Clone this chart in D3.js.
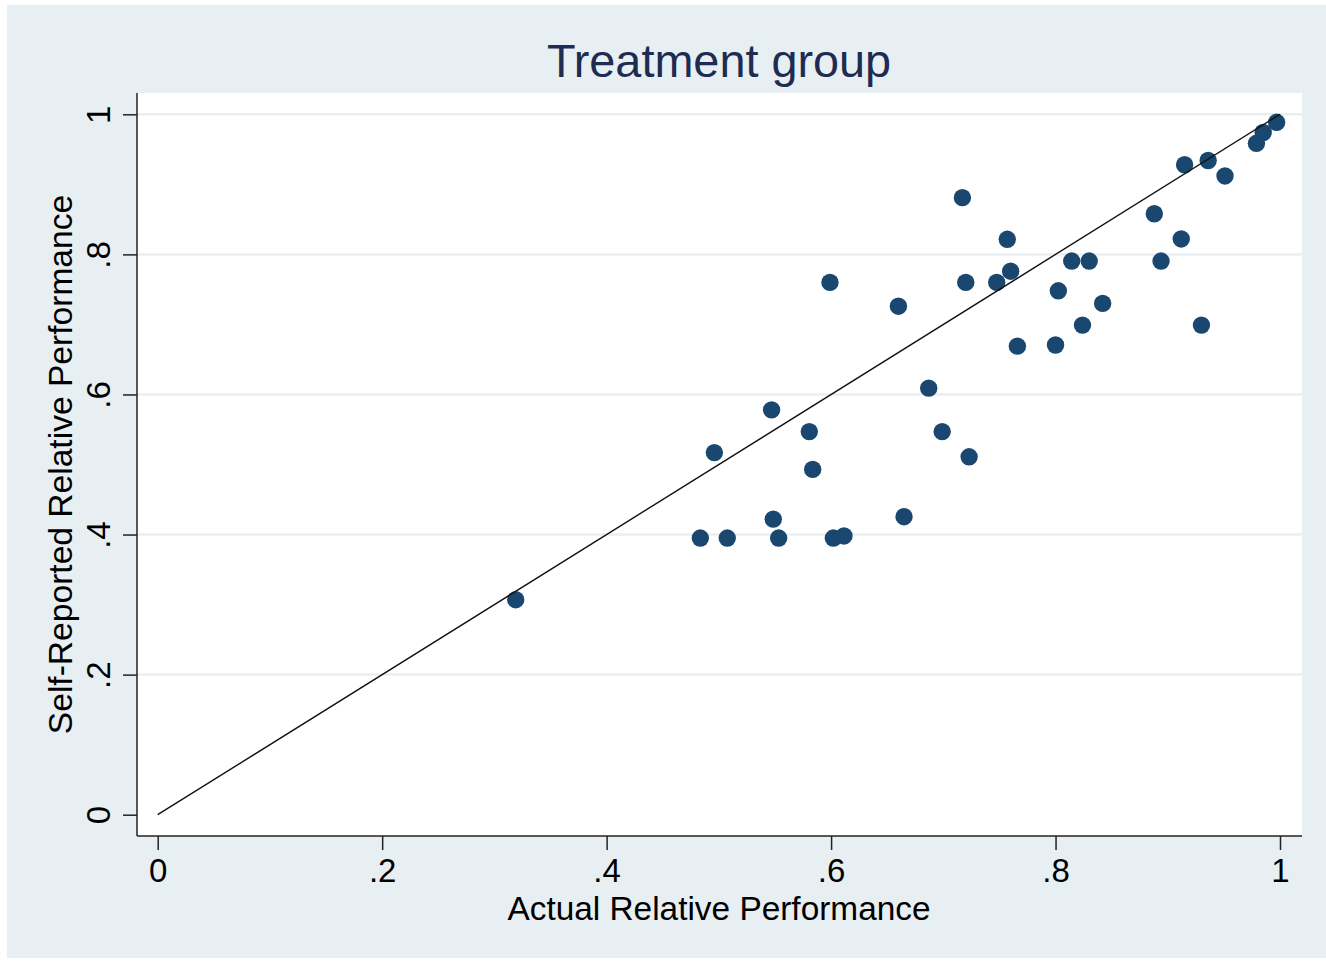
<!DOCTYPE html>
<html>
<head>
<meta charset="utf-8">
<script src="https://cdn.jsdelivr.net/npm/d3@7"></script>
<style>
  body { margin: 0; background: #ffffff; }
  svg { display: block; font-family: "Liberation Sans", Arial, sans-serif; }
</style>
</head>
<body>
<svg id="chart"></svg>
<script>
// actual vs self-reported relative performance
const ACTUAL = [
    0.319, 0.4835, 0.496, 0.5075, 0.547, 0.5485, 0.5533, 0.5806, 0.5836, 0.599,
    0.602, 0.6115, 0.660, 0.665, 0.687, 0.699, 0.717, 0.720, 0.723, 0.7476,
    0.757, 0.760, 0.766, 0.800, 0.8025, 0.8144, 0.824, 0.830, 0.842, 0.888,
    0.894, 0.912, 0.915, 0.930, 0.936, 0.951, 0.979, 0.985, 0.997
];
const SELF_REPORTED = [
    0.307, 0.395, 0.517, 0.395, 0.578, 0.422, 0.395, 0.547, 0.493, 0.760,
    0.395, 0.398, 0.726, 0.4255, 0.609, 0.547, 0.881, 0.760, 0.511, 0.760,
    0.8215, 0.776, 0.669, 0.6706, 0.748, 0.7905, 0.699, 0.7905, 0.730, 0.858,
    0.7905, 0.822, 0.928, 0.699, 0.934, 0.912, 0.9586, 0.974, 0.9886
];
const TICKS = [0, 0.2, 0.4, 0.6, 0.8, 1];
const TICK_LABELS = ["0", ".2", ".4", ".6", ".8", "1"];
const REF_LINE = [[0, 0], [1, 1]];

const WIDTH = 1326;
const HEIGHT = 961;
const PLOT = { left: 137, right: 1302, top: 93, bottom: 836 };

const points = ACTUAL.map(function (a, i) {
    return { x: a, y: SELF_REPORTED[i] };
});

let xScale = d3.scaleLinear().domain([0, 1]).range([157.7, 1280]);
let yScale = d3.scaleLinear().domain([0, 1]).range([814.7, 114.3]);

let svg = d3.select("#chart")
    .attr("width", WIDTH)
    .attr("height", HEIGHT);

// outer background
svg.append("rect")
    .attr("x", 7).attr("y", 5)
    .attr("width", WIDTH - 7).attr("height", HEIGHT - 8)
    .attr("fill", "#e8eff2");

// plot region
svg.append("rect")
    .attr("x", PLOT.left).attr("y", PLOT.top)
    .attr("width", PLOT.right - PLOT.left)
    .attr("height", PLOT.bottom - PLOT.top)
    .attr("fill", "#ffffff");

// horizontal grid lines
svg.append("g")
    .selectAll("line")
    .data(TICKS.filter(function (t) { return t > 0; }))
    .enter()
    .append("line")
    .attr("x1", PLOT.left)
    .attr("x2", PLOT.right)
    .attr("y1", function (d) { return yScale(d); })
    .attr("y2", function (d) { return yScale(d); })
    .attr("stroke", "#e8eff2")
    .attr("stroke-width", 2.5);

function tickFmt(d) {
    return TICK_LABELS[TICKS.indexOf(d)];
}

// x axis
let xAxis = svg.append("g")
    .attr("transform", "translate(0," + PLOT.bottom + ")")
    .call(d3.axisBottom(xScale).tickValues(TICKS).tickFormat(tickFmt).tickSize(14));
xAxis.select(".domain").remove();
xAxis.selectAll(".tick line").attr("stroke", "#222").attr("stroke-width", 1.5);
xAxis.selectAll(".tick text")
    .attr("y", 46)
    .attr("dy", "0")
    .attr("font-size", "33px")
    .attr("font-family", "Liberation Sans, Arial, sans-serif")
    .attr("fill", "#000");

// y axis, labels rotated like Stata
let yAxis = svg.append("g")
    .attr("transform", "translate(" + PLOT.left + ",0)")
    .call(d3.axisLeft(yScale).tickValues(TICKS).tickFormat(tickFmt).tickSize(14));
yAxis.select(".domain").remove();
yAxis.selectAll(".tick line").attr("stroke", "#222").attr("stroke-width", 1.5);
yAxis.selectAll(".tick text")
    .attr("transform", "rotate(-90)")
    .attr("x", 0)
    .attr("y", -27)
    .attr("dy", "0")
    .attr("text-anchor", "middle")
    .attr("font-size", "33px")
    .attr("font-family", "Liberation Sans, Arial, sans-serif")
    .attr("fill", "#000");

// axis lines
svg.append("line")
    .attr("x1", PLOT.left).attr("x2", PLOT.left)
    .attr("y1", PLOT.top).attr("y2", PLOT.bottom)
    .attr("stroke", "#222").attr("stroke-width", 1.5);
svg.append("line")
    .attr("x1", PLOT.left).attr("x2", PLOT.right)
    .attr("y1", PLOT.bottom).attr("y2", PLOT.bottom)
    .attr("stroke", "#222").attr("stroke-width", 1.5);

// markers
svg.append("g")
    .selectAll("circle")
    .data(points)
    .enter()
    .append("circle")
    .attr("cx", function (d) { return xScale(d.x); })
    .attr("cy", function (d) { return yScale(d.y); })
    .attr("r", 8.7)
    .style("fill", "#1a476f")
    .style("stroke", "none");

// 45 degree line
let line = d3.line()
    .x(function (d) { return xScale(d[0]); })
    .y(function (d) { return yScale(d[1]); });
svg.append("path")
    .datum(REF_LINE)
    .attr("d", line)
    .attr("fill", "none")
    .attr("stroke", "#111")
    .attr("stroke-width", 1.4);

// titles
svg.append("text")
    .text("Treatment group")
    .attr("x", 719)
    .attr("y", 77)
    .attr("text-anchor", "middle")
    .attr("font-size", "46.8px")
    .attr("fill", "#1e2b52");

svg.append("text")
    .text("Actual Relative Performance")
    .attr("x", 719)
    .attr("y", 920)
    .attr("text-anchor", "middle")
    .attr("font-size", "33.4px")
    .attr("fill", "#000");

svg.append("text")
    .text("Self-Reported Relative Performance")
    .attr("transform", "translate(72," + (PLOT.top + PLOT.bottom) / 2 + ") rotate(-90)")
    .attr("text-anchor", "middle")
    .attr("font-size", "33.6px")
    .attr("fill", "#000");
</script>
</body>
</html>
